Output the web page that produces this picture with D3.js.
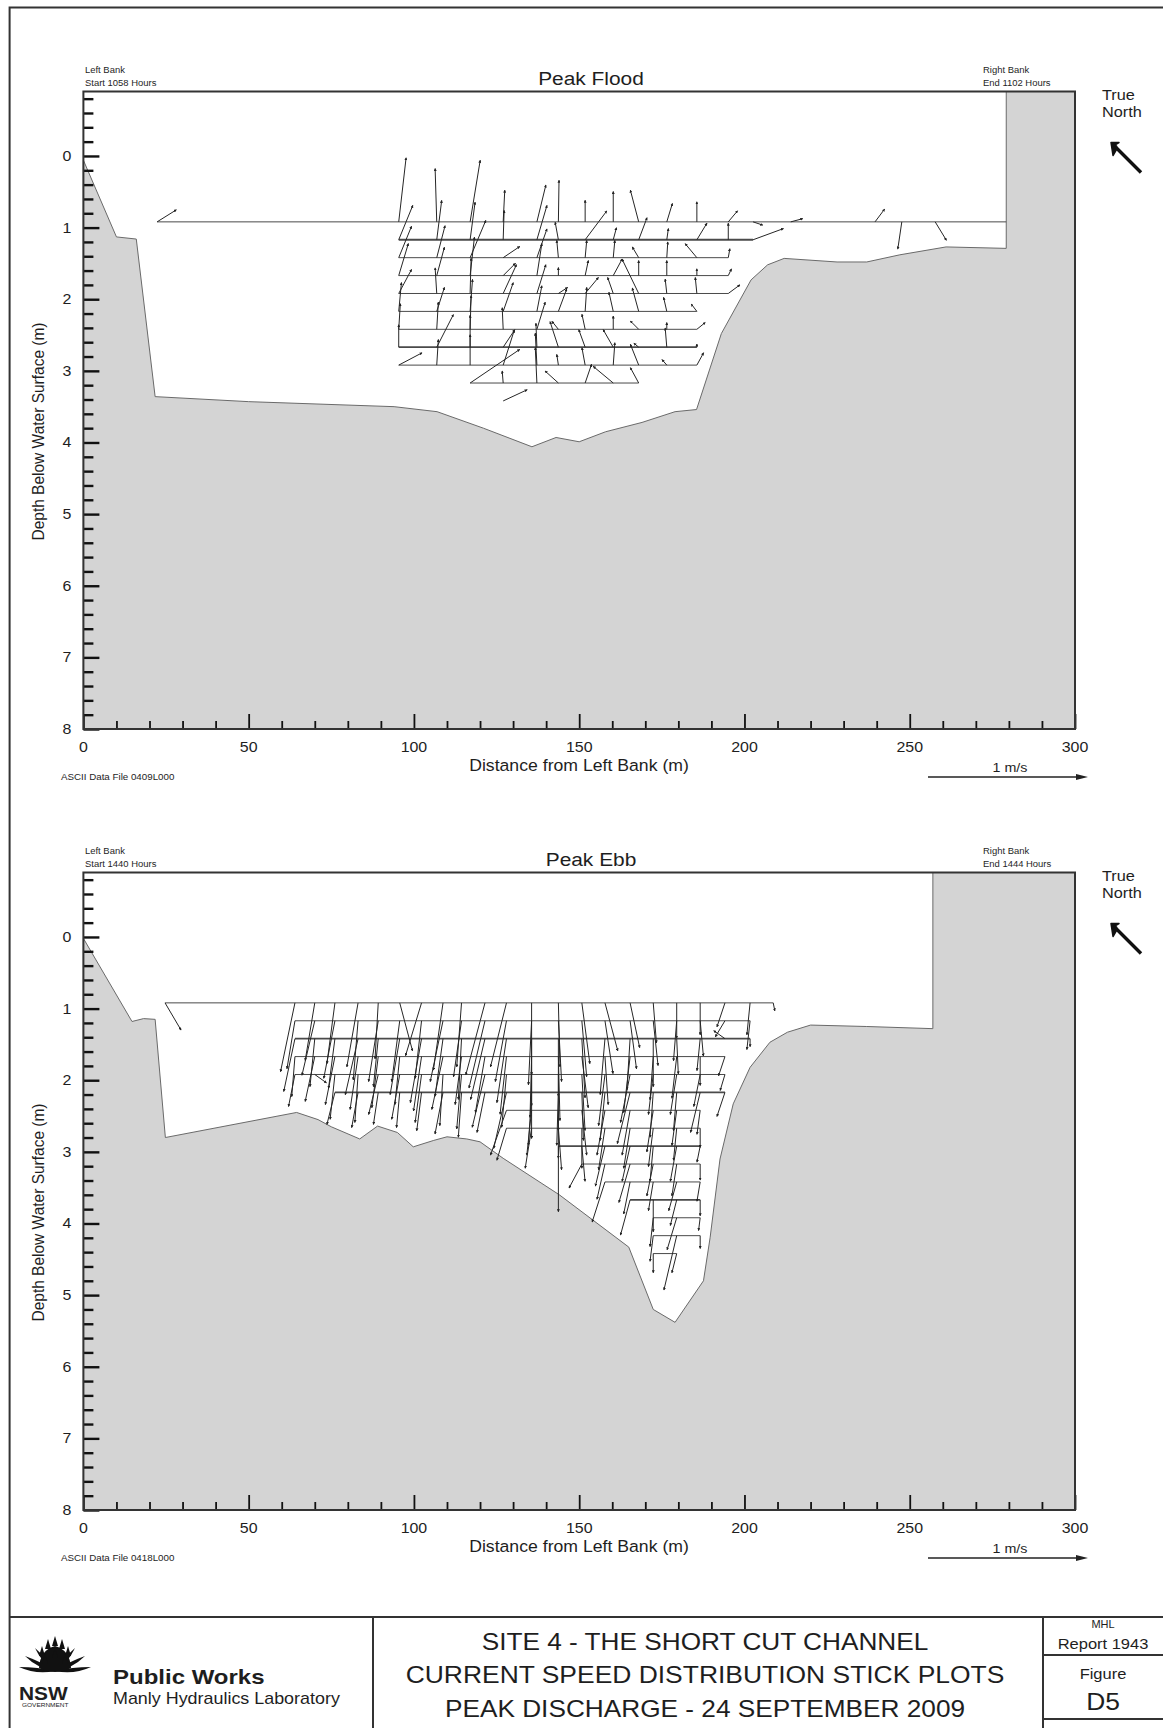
<!DOCTYPE html>
<html>
<head>
<meta charset="utf-8" />
<title>Site 4 - The Short Cut Channel - Stick Plots</title>
<script src="https://cdn.jsdelivr.net/npm/d3@7"></script>
<style>
body { margin: 0; background: #fff; }
svg { display: block; font-family: "Liberation Sans", Arial, sans-serif; }
</style>
</head>
<body>
<div id="chart"></div>
<script>

// ---- axes ----
var xMajor = [0, 50, 100, 150, 200, 250, 300];
var depthMajor = [0, 1, 2, 3, 4, 5, 6, 7, 8];

// ---- Peak Flood ----
var floodBed = [[0,0.06],[10,1.13],[16,1.16],[21.7,3.36],[50,3.43],[94,3.5],[107,3.57],[121,3.8],
  [135.7,4.06],[143,3.93],[150,3.99],[158,3.85],[169,3.72],[179,3.57],[185.5,3.54],[193,2.48],
  [202,1.73],[207,1.52],[212,1.43],[228,1.48],[237,1.48],[247,1.38],[261,1.27],[279.2,1.29],
  [279.2,-0.9],[300,-0.9]];
var floodBins = [0.92,1.17,1.42,1.67,1.92,2.17,2.42,2.67,2.92,3.17];
var floodBinFrom = [22.3,95.4,95.4,95.4,95.4,95.4,95.4,95.4,95.4,117];
var floodBinTo = [279.2,202.6,195.1,195.1,195.1,185.6,185.6,185.6,185.6,168];
var floodCols = [95.4,106.9,117,127,137.2,143.7,151.8,160.3,168,176.5,185.6,195.1];
// east (u) and north (v) components, m/s, one row per ensemble, one value per bin
var floodU = [
  [.046,.088,.08,.06,.08,.017,.01,0,.146],
  [-.01,.031,.052,.048,-.01,.048,.01,.104,.01],
  [.063,.031,.098,.027,.006,.015,.006,0,0,.31],
  [.01,.006,.104,.077,.083,.063,-.006,.073,.069,-.006],
  [.056,.063,.063,.031,.056,.031,.052,-.006,-.01,-.01],
  [.004,-.02,-.01,0,.058,.052,-.04,-.052,-.01,-.083],
  [0,.135,.01,.02,.083,.01,-.02,-.04,-.02,.04],
  [0,.02,.01,.056,-.035,-.027,0,-.063,.01,-.125],
  [-.052,.052,-.04,0,-.104,-.04,-.052,-.03,-.052,-.052],
  [.035,.01,.006,0,-.01,-.02,0,-.01,-.03],
  [0,.063,-.073,0,-.01,-.035,.052,0,.042],
  [.058,0,.01,.02,.073]
];
var floodV = [
  [.40,.215,.196,.20,.15,.18,.16,.14,.077],
  [.333,.246,.20,.177,.16,.15,.17,.204,.16],
  [.385,.235,.233,.24,.22,.20,.21,.20,.19,.21],
  [.198,.183,.07,.077,.18,.18,.135,.11,.217,.075],
  [.23,.215,.18,.20,.18,.16,.17,.15,.20,.22],
  [.26,.11,.108,.05,.038,.14,.05,.16,.067,.075],
  [.135,.18,.108,.094,.10,.15,.094,.11,.108,.117],
  [.19,.075,.108,.104,.10,.12,.083,.11,.14,.104],
  [.198,.138,.067,.094,.215,.146,.052,.025,.13,.096],
  [.115,.07,.098,.094,.09,.0875,.042,.12,.035],
  [.125,.104,.0875,.042,.10,.046,.042,.02,.077],
  [.069,.104,.056,.042,.054]
];
// single sticks: distance, depth, u, v
var floodExtra = [[22.3,0.92,.12,.075],[202.6,1.17,.19,.07],[202.6,0.92,.06,-.02],[214,0.92,.075,.02],
  [239.5,0.92,.06,.08],[247.6,0.92,-.025,-.17],[257.7,0.92,.07,-.115],[127,3.42,.15,.07]];

// ---- Peak Ebb ----
var ebbBed = [[0,0.02],[14.7,1.18],[18.2,1.14],[21.7,1.15],[24.8,2.8],[64.5,2.45],[71,2.55],[75,2.65],
  [83.6,2.82],[89,2.64],[95,2.73],[99.8,2.93],[106,2.84],[110,2.79],[116,2.82],[120,2.86],[127,3.09],
  [144,3.6],[165,4.33],[172.4,5.2],[179,5.38],[187.6,4.8],[189.6,4.2],[192.6,3.1],[196.6,2.33],
  [201.7,1.82],[207.7,1.47],[213,1.33],[220,1.23],[237,1.25],[257,1.28],[257,-0.9],[300,-0.9]];
var ebbBins = [0.92,1.17,1.42,1.67,1.92,2.17,2.42,2.67,2.92,3.17,3.42,3.67,3.92,4.17,4.42];
var ebbBinFrom = [24.7,64,64,64,64,76.1,128,128,143.7,150.8,157.8,165.4,172.4,172.4,172.4];
var ebbBinTo = [208.7,201.7,201.7,194.1,194.1,194.1,186.6,186.6,186.6,186.6,186.6,186.6,186.6,186.6,179.5];
var ebbCols = [64.0,70.0,76.1,83.1,89.2,95.7,102.3,108.8,114.4,121.5,128.0,135.6,143.7,150.8,157.8,
  165.4,172.4,179.5,186.6,194.1,201.7,208.7];
var ebbU = [
  [-.09,-.05,-.07,-.02,-.04],
  [-.06,-.08,-.03,-.06,.073],
  [-.05,-.07,-.04,-.06,-.03,-.05],
  [-.07,-.03,-.08,-.05,-.02,-.04],
  [-.02,-.06,-.03,-.04,-.06,-.03],
  [.08,-.05,-.06,-.03,-.05,-.02],
  [-.10,-.04,-.07,-.05,-.04,-.03],
  [-.06,-.08,-.05,-.07,-.02,-.05],
  [-.03,-.05,-.02,-.04,-.03,-.02],
  [-.12,-.10,-.09,-.06,-.08,-.05],
  [-.10,-.07,-.06,-.04,-.03,-.08,-.10,-.06],
  [0,-.02,0,-.01,0,-.02,-.03,-.04],
  [.01,.02,0,.01,0,-.01,0,.02,0],
  [.05,.03,.02,.04,.02,.01,.03,0,.02,-.08],
  [.08,.05,-.03,.02,-.04,-.03,-.05,-.04,-.06,-.05,-.08],
  [.06,.04,-.02,-.04,-.06,-.08,-.05,-.04,-.05,-.07,-.04,-.06],
  [.02,.03,0,-.02,-.03,-.02,-.04,-.03,-.02,-.04,-.03,0,-.02,-.02,0],
  [0,-.02,.01,-.03,-.04,-.02,-.03,-.02,-.04,-.03,-.05,-.04,-.06,-.08,-.03],
  [0,.02,-.02,0,-.04,-.06,-.02,0,-.02,0,-.02,0,-.01,0],
  [-.05,-.06,-.07,-.04,-.03,-.05],
  [-.02,-.02,0],
  [.01]
];
var ebbV = [
  [-.43,-.30,-.33,-.25,-.20],
  [-.36,-.34,-.30,-.28,-.052],
  [-.38,-.36,-.31,-.30,-.28,-.20],
  [-.40,-.37,-.35,-.33,-.30,-.22],
  [-.35,-.38,-.30,-.32,-.25,-.20],
  [-.30,-.38,-.35,-.30,-.28,-.22],
  [-.33,-.36,-.40,-.34,-.30,-.24],
  [-.42,-.38,-.36,-.33,-.32,-.26],
  [-.40,-.35,-.38,-.30,-.34,-.28],
  [-.45,-.42,-.38,-.35,-.33,-.25],
  [-.40,-.38,-.40,-.36,-.33,-.35,-.28,-.20],
  [-.45,-.40,-.42,-.38,-.40,-.33,-.28,-.25],
  [-.40,-.38,-.36,-.40,-.35,-.33,-.30,-.26,-.41],
  [-.38,-.35,-.37,-.32,-.35,-.30,-.28,-.25,-.22,-.15],
  [-.30,-.33,-.35,-.30,-.32,-.30,-.28,-.26,-.25,-.22,-.25],
  [-.28,-.30,-.32,-.35,-.30,-.32,-.28,-.25,-.22,-.24,-.20,-.22],
  [-.25,-.28,-.30,-.27,-.25,-.28,-.26,-.24,-.22,-.20,-.18,-.20,-.18,-.16,-.12],
  [-.22,-.25,-.22,-.26,-.25,-.24,-.22,-.20,-.22,-.20,-.18,-.16,-.20,-.34,-.12],
  [-.20,-.22,-.20,-.18,-.20,-.25,-.15,-.12,-.10,-.10,-.12,-.10,-.08,-.08],
  [-.15,-.10,.05,-.12,-.10,-.15],
  [-.20,-.18,-.05],
  [-.05]
];
var ebbExtra = [[24.7,0.92,.10,-.17]];

// ---------------------------------------------------------------
var W = 1163, H = 1728;
var svg = d3.select("#chart").append("svg").attr("width", W).attr("height", H);

svg.append("defs").append("marker")
    .attr("id", "tip").attr("viewBox", "0 0 6 6").attr("refX", 5).attr("refY", 3)
    .attr("markerWidth", 3).attr("markerHeight", 3).attr("orient", "auto")
    .attr("markerUnits", "userSpaceOnUse")
  .append("path").attr("d", "M0,0L6,3L0,6Z").attr("fill", "#222");

// scanned figure is a little wider than it is tall, so text gets stretched
function label(g, x, y, s, size, opts) {
  opts = opts || {};
  var t = g.append("text")
    .attr("transform", "translate(" + x + "," + y + ") scale(" + (opts.sx || 1.1) + ",1)")
    .attr("text-anchor", opts.anchor || "start")
    .attr("font-size", size)
    .attr("font-weight", opts.weight || "normal")
    .attr("fill", "#1e1e1e")
    .text(s);
  return t;
}

var x = d3.scaleLinear().domain([0, 300]).range([83.4, 1075]);
var spd = d3.scaleLinear().domain([0, 1]).range([0, 160]);

function drawPanel(p) {
  var y = d3.scaleLinear().domain([-0.9, 8]).range([p.top, p.top + 637.5]);
  var g = svg.append("g");
  var yb = y(8);

  g.append("path")
    .attr("d", d3.line().x(function(d) { return x(d[0]); }).y(function(d) { return y(d[1]); })
      (p.bed.concat([[300, 8], [0, 8]])) + "Z")
    .attr("fill", "#d4d4d4").attr("stroke", "#6a6a6a").attr("stroke-width", 1);

  g.selectAll(".bin").data(p.bins).enter().append("line")
    .attr("x1", function(d, i) { return x(p.from[i]); })
    .attr("x2", function(d, i) { return x(p.to[i]); })
    .attr("y1", function(d) { return y(d); })
    .attr("y2", function(d) { return y(d); })
    .attr("stroke", "#4a4a4a")
    .attr("stroke-width", function(d, i) { return p.heavy.indexOf(i) >= 0 ? 1.8 : 1; });

  var sticks = [];
  p.cols.forEach(function(cx, i) {
    p.u[i].forEach(function(u, j) { sticks.push([cx, p.bins[j], u, p.v[i][j]]); });
  });
  p.extra.forEach(function(s) { sticks.push(s); });

  g.selectAll(".stick").data(sticks).enter().append("line")
    .attr("x1", function(d) { return x(d[0]); })
    .attr("y1", function(d) { return y(d[1]); })
    .attr("x2", function(d) { return x(d[0]) + spd(d[2]); })
    .attr("y2", function(d) { return y(d[1]) - spd(d[3]); })
    .attr("stroke", "#262626").attr("stroke-width", 1)
    .attr("marker-end", "url(#tip)");

  // ticks
  var minorY = d3.range(-4, 41).map(function(i) { return i / 5; }).filter(function(d) { return d % 1 !== 0; });
  var minorX = d3.range(0, 301, 10).filter(function(d) { return d % 50 !== 0; });
  var yMaj = g.append("g").attr("transform", "translate(" + x(0) + ",0)")
    .call(d3.axisRight(y).tickValues(depthMajor).tickSize(16).tickSizeOuter(0).tickFormat(""));
  var yMin = g.append("g").attr("transform", "translate(" + x(0) + ",0)")
    .call(d3.axisRight(y).tickValues(minorY).tickSize(10).tickSizeOuter(0).tickFormat(""));
  var xMaj = g.append("g").attr("transform", "translate(0," + yb + ")")
    .call(d3.axisTop(x).tickValues(xMajor).tickSize(15).tickSizeOuter(0).tickFormat(""));
  var xMin = g.append("g").attr("transform", "translate(0," + yb + ")")
    .call(d3.axisTop(x).tickValues(minorX).tickSize(8).tickSizeOuter(0).tickFormat(""));
  [yMaj, yMin, xMaj, xMin].forEach(function(a) { a.select(".domain").remove(); });
  [yMaj, yMin].forEach(function(a) { a.selectAll("line").attr("stroke", "#111").attr("stroke-width", 2.4); });
  [xMaj, xMin].forEach(function(a) { a.selectAll("line").attr("stroke", "#111").attr("stroke-width", 1.8); });

  g.append("rect")
    .attr("x", x(0)).attr("y", y(-0.9)).attr("width", x(300) - x(0)).attr("height", yb - y(-0.9))
    .attr("fill", "none").attr("stroke", "#333").attr("stroke-width", 2);

  depthMajor.forEach(function(d) { label(g, 67, y(d) + 5, d, 14.5, { anchor: "middle" }); });
  xMajor.forEach(function(d) { label(g, x(d), yb + 23, d, 14.5, { anchor: "middle" }); });

  label(g, 579, yb + 42, "Distance from Left Bank (m)", 16.5, { anchor: "middle", sx: 1.07 });
  label(g, 44, p.top + 340, "Depth Below Water Surface  (m)", 15.5, { anchor: "middle" })
    .attr("transform", "translate(44," + (p.top + 340) + ") scale(1.1,1) rotate(-90)");
  label(g, 61, yb + 51, p.ascii, 8.5, { sx: 1.15 });

  label(g, 591, p.top - 7, p.title, 19, { anchor: "middle" });
  label(g, 85, p.top - 19, "Left Bank", 9, { sx: 1.05 });
  label(g, 85, p.top - 5.5, p.start, 9, { sx: 1.05 });
  label(g, 983, p.top - 19, "Right Bank", 9, { sx: 1.05 });
  label(g, 983, p.top - 5.5, p.end, 9, { sx: 1.05 });

  label(g, 1102, p.top + 8.5, "True", 15.5, { sx: 1.05 });
  label(g, 1102, p.top + 25.5, "North", 15.5, { sx: 1.05 });
  var ax0 = 1141, ay0 = p.top + 81, ax1 = 1111, ay1 = p.top + 51;
  g.append("path")
    .attr("d", "M" + ax0 + "," + ay0 + "L" + (ax1 + 2) + "," + (ay1 + 2))
    .attr("fill", "none").attr("stroke", "#111").attr("stroke-width", 3.4);
  g.append("path")
    .attr("d", "M" + ax1 + "," + ay1 + "l2,13l3.5,-6l0,-3.5l-3.5,0l6,-3.5z")
    .attr("fill", "#111").attr("stroke", "#111").attr("stroke-width", 1.5).attr("stroke-linejoin", "round");

  // speed scale
  label(g, 1010, yb + 43, "1 m/s", 13, { anchor: "middle" });
  var sx0 = 928, sx1 = 928 + spd(1), sy = yb + 48;
  g.append("line").attr("x1", sx0).attr("x2", sx1 - 6).attr("y1", sy).attr("y2", sy)
    .attr("stroke", "#222").attr("stroke-width", 1.6);
  g.append("path").attr("d", "M" + sx1 + "," + sy + "l-12,-3l0,6z").attr("fill", "#222");
}

// page frame
svg.append("path").attr("d", "M9.6,1728V7.5H1163").attr("fill", "none")
  .attr("stroke", "#333").attr("stroke-width", 2);

drawPanel({ top: 91.5, title: "Peak Flood", start: "Start 1058 Hours", end: "End 1102 Hours",
  ascii: "ASCII Data File 0409L000", bed: floodBed, bins: floodBins, from: floodBinFrom, to: floodBinTo,
  heavy: [1, 7], cols: floodCols, u: floodU, v: floodV, extra: floodExtra });

drawPanel({ top: 872.5, title: "Peak Ebb", start: "Start 1440 Hours", end: "End 1444 Hours",
  ascii: "ASCII Data File 0418L000", bed: ebbBed, bins: ebbBins, from: ebbBinFrom, to: ebbBinTo,
  heavy: [2, 5, 8, 11], cols: ebbCols, u: ebbU, v: ebbV, extra: ebbExtra });

// ---- title block ----
var tb = svg.append("g");
tb.append("path")
  .attr("d", "M9.6,1617H1163M373,1617V1728M1043,1617V1728M1043,1655H1163M1043,1719H1163")
  .attr("fill", "none").attr("stroke", "#333").attr("stroke-width", 2);

label(tb, 705, 1650, "SITE 4 - THE SHORT CUT CHANNEL", 23, { anchor: "middle", sx: 1.14 });
label(tb, 705, 1683, "CURRENT SPEED DISTRIBUTION STICK PLOTS", 23, { anchor: "middle", sx: 1.15 });
label(tb, 705, 1717, "PEAK DISCHARGE - 24 SEPTEMBER 2009", 23, { anchor: "middle", sx: 1.14 });

label(tb, 1103, 1628, "MHL", 10, { anchor: "middle" });
label(tb, 1103, 1649, "Report 1943", 15, { anchor: "middle" });
label(tb, 1103, 1679, "Figure", 15, { anchor: "middle" });
label(tb, 1103, 1710, "D5", 24, { anchor: "middle" });

label(tb, 113, 1684, "Public Works", 20, { weight: "bold", sx: 1.2 });
label(tb, 113, 1704, "Manly Hydraulics Laboratory", 16, { sx: 1.12 });
label(tb, 19, 1700, "NSW", 19, { weight: "bold", sx: 1.1 });
label(tb, 22, 1707, "GOVERNMENT", 5, { sx: 1.3 });

// waratah emblem: outer bracts, then a domed head of small pointed florets
var wc = [55, 1675];
var bracts = [[-36, -8, 8], [-30, -19, 8], [-20, -27, 7], [20, -27, 7], [30, -19, 8], [36, -8, 8]];
tb.selectAll(".bract").data(bracts).enter().append("path")
  .attr("d", function(d) {
    var tx = wc[0] + d[0], ty = wc[1] + d[1];
    var ang = Math.atan2(d[1], d[0]) + Math.PI / 2;
    var wx = Math.cos(ang) * d[2] / 2, wy = Math.sin(ang) * d[2] / 2;
    var mx = wc[0] + d[0] * 0.5, my = wc[1] + d[1] * 0.5;
    return "M" + wc[0] + "," + (wc[1] - 4) + "Q" + (mx + wx) + "," + (my + wy) + " " + tx + "," + ty +
           "Q" + (mx - wx) + "," + (my - wy) + " " + wc[0] + "," + (wc[1] - 4) + "Z";
  })
  .attr("fill", "#111");
tb.append("path")
  .attr("d", "M39,1668Q40,1650 55,1646Q70,1650 71,1668Q63,1672 55,1672Q47,1672 39,1668Z")
  .attr("fill", "#111");
var florets = [[42, 1652], [48, 1645], [55, 1642], [62, 1645], [68, 1652], [45, 1660], [55, 1654], [65, 1660]];
tb.selectAll(".floret").data(florets).enter().append("path")
  .attr("d", function(d) { return "M" + (d[0] - 3) + "," + (d[1] + 4) + "L" + d[0] + "," + (d[1] - 6) + "L" + (d[0] + 3) + "," + (d[1] + 4) + "Z"; })
  .attr("fill", "#111");

</script>
</body>
</html>
